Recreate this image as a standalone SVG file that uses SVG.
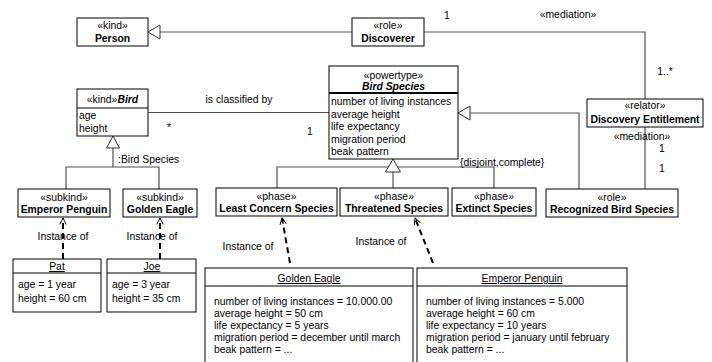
<svg xmlns="http://www.w3.org/2000/svg" width="712" height="362" viewBox="0 0 712 362">
<style>
text{font-family:"Liberation Sans",Arial,sans-serif;font-size:10.4px;fill:#000}
.b{font-weight:bold}
.bi{font-weight:bold;font-style:italic}
.m{text-anchor:middle}
.u{text-decoration:underline}
.box{fill:#fff;stroke:#000;stroke-width:1}
.sep{stroke:#000;stroke-width:1}
.con{fill:none;stroke:#505050;stroke-width:1.2}
.tri{fill:#fff;stroke:#303030;stroke-width:1}
.dash{fill:none;stroke:#000;stroke-width:2;stroke-dasharray:6,4}
</style>
<defs>
<marker id="open" viewBox="0 0 10 10" refX="9" refY="5" markerWidth="8" markerHeight="8" markerUnits="userSpaceOnUse" orient="auto">
<path d="M1,1 L9,5 L1,9" fill="none" stroke="#000" stroke-width="1.2" style="stroke-dasharray:none"/>
</marker>
</defs>

<g id="connectors">
<line class="con" x1="352" y1="32" x2="160" y2="32"/>
<polygon class="tri" points="148,32 160,25 160,39"/>
<polyline class="con" points="424,32 645,32 645,99"/>
<text x="447" y="19" class="m">1</text>
<text x="568" y="17.5" class="m">«mediation»</text>
<text x="665" y="75" class="m">1..*</text>
<line class="con" x1="645" y1="127" x2="645" y2="189"/>
<text x="642" y="140" class="m">«mediation»</text>
<text x="662" y="151.5" class="m">1</text>
<text x="662" y="172" class="m">1</text>
<polyline class="con" points="579,189 579,113 470,113"/>
<polygon class="tri" points="458,113 470,106 470,120"/>
<line class="con" x1="148" y1="112.5" x2="329" y2="112.5"/>
<text x="239" y="103" class="m">is classified by</text>
<text x="169" y="131" class="m">*</text>
<text x="310" y="135" class="m">1</text>
<polyline class="con" points="66,189 66,167 159,167 159,189"/>
<line class="con" x1="113" y1="148" x2="113" y2="167"/>
<polygon class="tri" points="113,136 106.5,148 119.5,148"/>
<text x="118" y="163">:Bird Species</text>
<polyline class="con" points="277,188 277,167 494,167 494,188"/>
<line class="con" x1="393" y1="167" x2="393" y2="188"/>
<polygon class="tri" points="393,159 385.5,172 400.5,172"/>
<text x="460" y="165.5">{disjoint,complete}</text>
<line class="dash" x1="63" y1="259" x2="63" y2="218" marker-end="url(#open)"/>
<line class="dash" x1="160" y1="259" x2="160" y2="218" marker-end="url(#open)"/>
<text x="63" y="239.5" class="m">Instance of</text>
<text x="152" y="239.5" class="m">Instance of</text>
<line class="dash" x1="290" y1="263" x2="282" y2="218" marker-end="url(#open)"/>
<line class="dash" x1="433" y1="263" x2="415" y2="218" marker-end="url(#open)"/>
<text x="248" y="249.5" class="m">Instance of</text>
<text x="381" y="244.5" class="m">Instance of</text>
</g>

<g id="person">
<rect class="box" x="77" y="18" width="71" height="28"/>
<text x="112.5" y="28.5" class="m">«kind»</text>
<text x="112.5" y="41.5" class="m b">Person</text>
</g>

<g id="discoverer">
<rect class="box" x="352" y="18" width="72" height="28"/>
<text x="388" y="28.5" class="m">«role»</text>
<text x="388" y="41.5" class="m b">Discoverer</text>
</g>

<g id="discovery-entitlement">
<rect class="box" x="587" y="99" width="116" height="28"/>
<text x="645" y="109" class="m">«relator»</text>
<text x="645" y="122.5" class="m b">Discovery Entitlement</text>
</g>

<g id="recognized-bird-species">
<rect class="box" x="546" y="189" width="132" height="28"/>
<text x="612" y="200.5" class="m">«role»</text>
<text x="612" y="212.5" class="m b">Recognized Bird Species</text>
</g>

<g id="bird-species">
<rect class="box" x="329" y="66" width="129" height="93"/>
<line x1="329" y1="93" x2="458" y2="93" stroke="#000" stroke-width="2"/>
<text x="393.5" y="79" class="m">«powertype»</text>
<text x="393.5" y="90" class="m bi">Bird Species</text>
<text x="331" y="105">number of living instances</text>
<text x="331" y="117.5">average height</text>
<text x="331" y="130">life expectancy</text>
<text x="331" y="142.5">migration period</text>
<text x="331" y="155">beak pattern</text>
</g>

<g id="bird">
<rect class="box" x="77" y="89" width="71" height="47"/>
<line class="sep" x1="77" y1="108" x2="148" y2="108"/>
<text x="112.5" y="103" class="m">«kind»<tspan class="bi">Bird</tspan></text>
<text x="79" y="119">age</text>
<text x="79" y="131.5">height</text>
</g>

<g id="emperor-penguin-subkind">
<rect class="box" x="18" y="189" width="92" height="28"/>
<text x="64" y="200.5" class="m">«subkind»</text>
<text x="64" y="212.5" class="m b">Emperor Penguin</text>
</g>

<g id="golden-eagle-subkind">
<rect class="box" x="123" y="189" width="74" height="28"/>
<text x="160" y="200.5" class="m">«subkind»</text>
<text x="160" y="212.5" class="m b">Golden Eagle</text>
</g>

<g id="least-concern">
<rect class="box" x="216" y="188" width="121" height="28"/>
<text x="276.5" y="200" class="m">«phase»</text>
<text x="276.5" y="212" class="m b">Least Concern Species</text>
</g>

<g id="threatened">
<rect class="box" x="340" y="188" width="108" height="28"/>
<text x="394" y="200" class="m">«phase»</text>
<text x="394" y="212" class="m b">Threatened Species</text>
</g>

<g id="extinct">
<rect class="box" x="452" y="188" width="84" height="28"/>
<text x="494" y="200" class="m">«phase»</text>
<text x="494" y="212" class="m b">Extinct Species</text>
</g>

<g id="pat">
<rect class="box" x="13" y="259" width="88" height="53"/>
<line class="sep" x1="13" y1="273" x2="101" y2="273"/>
<text x="57" y="270" class="m u">Pat</text>
<text x="18" y="288">age = 1 year</text>
<text x="18" y="302">height = 60 cm</text>
</g>

<g id="joe">
<rect class="box" x="107" y="259" width="89" height="53"/>
<line class="sep" x1="107" y1="273" x2="196" y2="273"/>
<text x="152" y="270" class="m u">Joe</text>
<text x="112" y="288">age = 3 year</text>
<text x="112" y="302">height = 35 cm</text>
</g>

<g id="golden-eagle-instance">
<rect class="box" x="205" y="268" width="208" height="100"/>
<line class="sep" x1="205" y1="286" x2="413" y2="286"/>
<text x="309" y="282" class="m u">Golden Eagle</text>
<text x="214" y="304.5">number of living instances = 10.000.00</text>
<text x="214" y="316.5">average height = 50 cm</text>
<text x="214" y="328.5">life expectancy = 5 years</text>
<text x="214" y="340.5">migration period = december until march</text>
<text x="214" y="352.5">beak pattern = ...</text>
</g>

<g id="emperor-penguin-instance">
<rect class="box" x="417" y="268" width="210" height="100"/>
<line class="sep" x1="417" y1="286" x2="627" y2="286"/>
<text x="522" y="282" class="m u">Emperor Penguin</text>
<text x="426" y="304.5">number of living instances = 5.000</text>
<text x="426" y="316.5">average height = 60 cm</text>
<text x="426" y="328.5">life expectancy = 10 years</text>
<text x="426" y="340.5">migration period = january until february</text>
<text x="426" y="352.5">beak pattern = ...</text>
</g>
</svg>
